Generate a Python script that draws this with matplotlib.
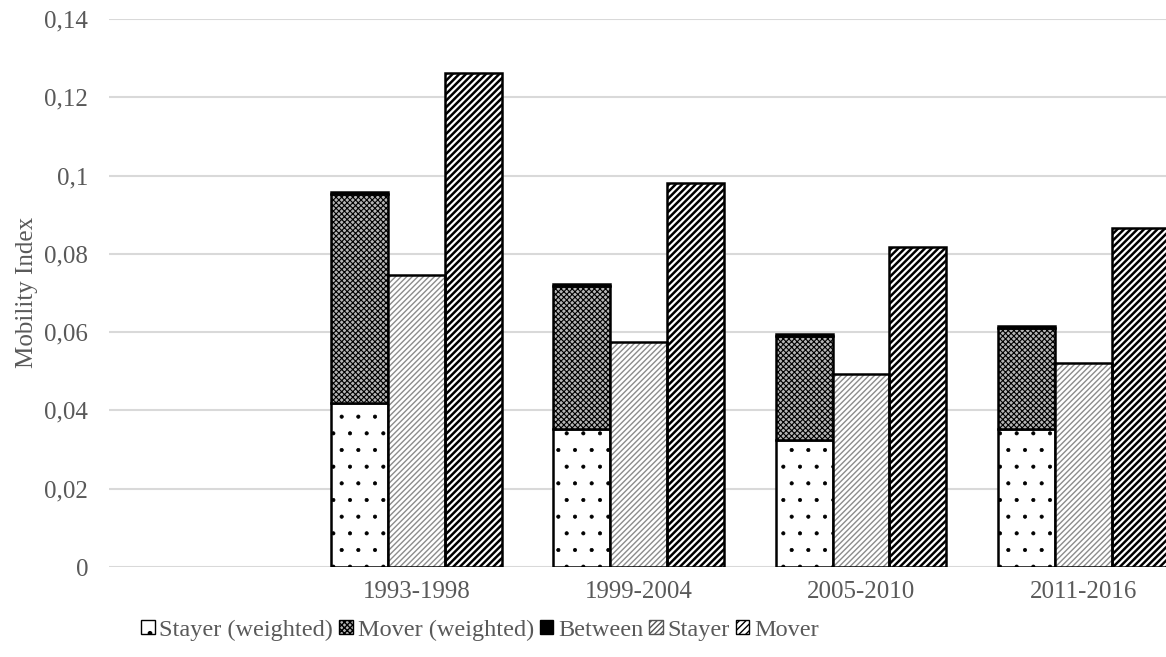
import numpy as np
import matplotlib
matplotlib.use("Agg")
import matplotlib.pyplot as plt
from matplotlib.patches import Patch

periods = ["1993-1998", "1999-2004", "2005-2010", "2011-2016"]
stayer_weighted = [0.0419, 0.0353, 0.0324, 0.0353]
mover_weighted = [0.0534, 0.0365, 0.0266, 0.0258]
between = [0.0005, 0.0005, 0.0005, 0.0005]
stayer = [0.0746, 0.0575, 0.0493, 0.0521]
mover = [0.1262, 0.0981, 0.0818, 0.0866]
y_ticks = [0, 0.02, 0.04, 0.06, 0.08, 0.10, 0.12, 0.14]
y_tick_labels = ["0", "0,02", "0,04", "0,06", "0,08", "0,1", "0,12", "0,14"]

plt.rcParams["font.family"] = ["Liberation Serif", "DejaVu Serif"]
text_color = "#595959"
fs = 18

fig = plt.figure(figsize=(11.66, 6.57), dpi=100)
ax = fig.add_axes([109 / 1166, 1 - 567 / 657, 1 - 109 / 1166, (567 - 19) / 657])

x = np.arange(len(periods))
w = 0.256


def set_hatch_lw(bars, lw):
    for p in bars:
        if hasattr(p, "set_hatch_linewidth"):
            p.set_hatch_linewidth(lw)


# stacked bar: stayer (weighted) + mover (weighted) + between
b1 = ax.bar(x - w, stayer_weighted, w, facecolor="white", edgecolor="black",
            linewidth=1.8, hatch=".", zorder=3)
set_hatch_lw(b1, 0.5)
bottom2 = np.array(stayer_weighted)
b2 = ax.bar(x - w, mover_weighted, w, bottom=bottom2, facecolor="#b4b4b4",
            edgecolor="black", linewidth=1.8, hatch="xxxxxx", zorder=3)
set_hatch_lw(b2, 0.8)
bottom3 = bottom2 + np.array(mover_weighted)
ax.bar(x - w, between, w, bottom=bottom3, facecolor="black",
       edgecolor="black", linewidth=1.8, zorder=3)

# stayer: grey hatch underneath, black outline on top
b4 = ax.bar(x, stayer, w, facecolor="white", edgecolor="#8c8c8c",
            linewidth=0, hatch="//////", zorder=3)
set_hatch_lw(b4, 1.0)
ax.bar(x, stayer, w, facecolor="none", edgecolor="black", linewidth=1.8,
       zorder=4)

# mover
b5 = ax.bar(x + w, mover, w, facecolor="white", edgecolor="black",
            linewidth=1.8, hatch="/////", zorder=3)
set_hatch_lw(b5, 1.8)

ax.set_xlim(-1.383, 3.372)
ax.set_ylim(0, 0.14)
ax.set_yticks(y_ticks)
ax.set_yticklabels(y_tick_labels)
ax.set_xticks(x)
ax.set_xticklabels(periods)
ax.tick_params(axis="both", length=0, labelsize=fs, colors=text_color)
ax.tick_params(axis="y", pad=15)
ax.tick_params(axis="x", pad=10)
ax.grid(axis="y", color="#d9d9d9", linewidth=1.5, zorder=0)
ax.set_axisbelow(True)
for s in ax.spines.values():
    s.set_visible(False)

fig.text(27 / 1166, 1 - 292 / 657, "Mobility Index", rotation=90,
         ha="center", va="center", fontsize=fs, color=text_color)

handles = [
    Patch(facecolor="white", edgecolor="black", hatch=".", linewidth=1),
    Patch(facecolor="#b4b4b4", edgecolor="black", hatch="xxxxxx", linewidth=1),
    Patch(facecolor="black", edgecolor="black", linewidth=1),
    Patch(facecolor="white", edgecolor="#555555", hatch="//////", linewidth=1),
    Patch(facecolor="white", edgecolor="black", hatch="/////", linewidth=1),
]
labels = ["Stayer (weighted)", "Mover (weighted)", "Between", "Stayer", "Mover"]
fig.legend(handles, labels, loc="center", bbox_to_anchor=(480 / 1166, 1 - 630 / 657),
           ncol=5, frameon=False, fontsize=17.5, labelcolor=text_color,
           handlelength=0.55, handleheight=0.55, handletextpad=0.2,
           columnspacing=0.25, borderpad=0)

fig.savefig("out.png", dpi=100)
